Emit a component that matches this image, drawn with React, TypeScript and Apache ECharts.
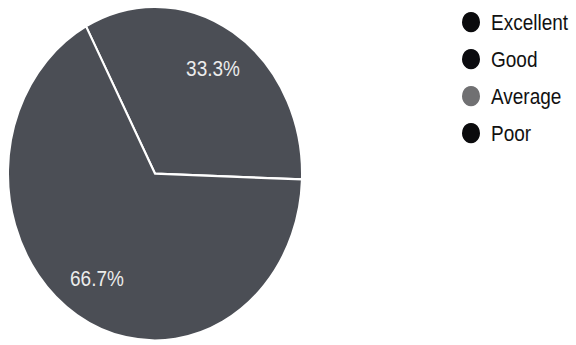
import React, { useEffect, useRef } from "react";
import * as echarts from "echarts";

const categories = ["Excellent", "Good", "Average", "Poor"];
const values = [0, 0, 1, 2];
const legendColors = ["#0b0b0d", "#0b0b0f", "#707072", "#0b0b0d"];
const sliceColor = "#4b4e55";

export default function App() {
  const ref = useRef<HTMLDivElement>(null);
  useEffect(() => {
    if (!ref.current) return;
    const chart = echarts.init(ref.current, null, { renderer: "svg" });
    const data = categories.map((name, i) => ({ name, value: values[i] }));
    const total = values.reduce((a, b) => a + b, 0);
    chart.setOption({
      animation: false,
      backgroundColor: "#ffffff",
      legend: {
        orient: "vertical",
        left: 457,
        top: 5,
        icon: "circle",
        itemWidth: 20,
        itemHeight: 18,
        itemGap: 13.6,
        textStyle: {
          fontFamily: "Liberation Sans, Arial, sans-serif",
          fontSize: 19,
          color: "#111",
          padding: [0, 0, 0, 5],
        },
        itemStyle: { borderWidth: 0 },
        data: categories.map((name, i) => ({ name, itemStyle: { color: legendColors[i], borderWidth: 0 } })),
      },
      series: [
        {
          type: "pie",
          center: [155, 153],
          radius: [0, 147],
          startAngle: 118,
          clockwise: true,
          silent: true,
          data,
          itemStyle: { color: sliceColor, borderColor: "#ffffff", borderWidth: 2 },
          label: { show: false },
          labelLine: { show: false },
        },
        {
          type: "pie",
          center: [155, 153],
          radius: [66, 147],
          startAngle: 118,
          clockwise: true,
          silent: true,
          data,
          itemStyle: { color: "rgba(0,0,0,0)", borderWidth: 0 },
          label: {
            show: true,
            position: "inside",
            color: "#ececec",
            fontSize: 19,
            fontFamily: "Liberation Sans, Arial, sans-serif",
            formatter: (p: any) => (p.value ? ((p.value / total) * 100).toFixed(1) + "%" : ""),
          },
          labelLine: { show: false },
        },
      ],
    });
    return () => chart.dispose();
  }, []);
  return (
    <div
      ref={ref}
      style={{
        position: "fixed",
        left: 0,
        top: 0,
        width: 576,
        height: 304,
        transform: "scaleY(1.135)",
        transformOrigin: "0 0",
      }}
    />
  );
}
